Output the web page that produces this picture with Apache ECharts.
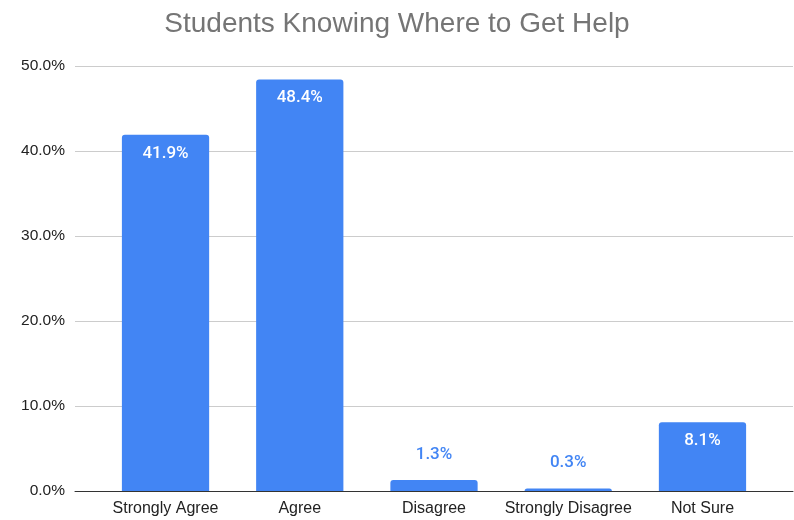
<!DOCTYPE html>
<html>
<head>
<meta charset="utf-8">
<script src="https://cdn.jsdelivr.net/npm/echarts@6/dist/echarts.min.js"></script>
<style>
  html, body { margin: 0; padding: 0; background: #fff; }
  #chart { width: 794px; height: 520px; }
</style>
</head>
<body>
<div id="chart"></div>
<script>
// Survey responses: share of students who know where to get help
const categories = ['Strongly Agree', 'Agree', 'Disagree', 'Strongly Disagree', 'Not Sure'];
const percentValues = [41.9, 48.4, 1.3, 0.3, 8.1];
const yTicks = { min: 0, max: 50, step: 10 };

const BAR_BLUE = '#4285f4';

// Tall bars carry their label inside in white; short bars get a blue label above.
const barData = percentValues.map(function (v) {
  const inside = v >= 5;
  return {
    value: v,
    label: inside
      ? { position: 'insideTop', distance: 10, color: '#ffffff' }
      : { position: 'top', distance: 17, color: BAR_BLUE }
  };
});

const chart = echarts.init(document.getElementById('chart'), null, { renderer: 'canvas' });

chart.setOption({
  animation: false,
  backgroundColor: '#ffffff',
  title: {
    text: 'Students Knowing Where to Get Help',
    left: 'center',
    top: 5,
    textStyle: {
      fontFamily: 'Liberation Sans, Arial, sans-serif',
      fontSize: 28,
      fontWeight: 'normal',
      color: '#757575'
    }
  },
  grid: [
    // full-width grid for gridlines and baseline
    { left: 75, right: 1, top: 66, bottom: 29 },
    // inset grid for the bars and category labels
    { left: 98.4, right: 24.4, top: 66, bottom: 29 }
  ],
  xAxis: [
    {
      gridIndex: 0,
      type: 'category',
      data: categories,
      axisLine: { show: true, lineStyle: { color: '#333333', width: 1 } },
      axisTick: { show: false },
      axisLabel: { show: false },
      splitLine: { show: false }
    },
    {
      gridIndex: 1,
      type: 'category',
      data: categories,
      axisLine: { show: false },
      axisTick: { show: false },
      axisLabel: {
        margin: 10,
        fontFamily: 'Liberation Sans, Arial, sans-serif',
        fontSize: 16,
        color: '#222222',
        interval: 0
      }
    }
  ],
  yAxis: [
    {
      gridIndex: 0,
      type: 'value',
      min: yTicks.min,
      max: yTicks.max,
      interval: yTicks.step,
      axisLine: { show: false },
      axisTick: { show: false },
      axisLabel: {
        margin: 10,
        fontFamily: 'Liberation Sans, Arial, sans-serif',
        fontSize: 15.5,
        color: '#222222',
        formatter: function (v) { return v.toFixed(1) + '%'; }
      },
      splitLine: { show: true, lineStyle: { color: '#cccccc', width: 1 } }
    },
    {
      gridIndex: 1,
      type: 'value',
      min: yTicks.min,
      max: yTicks.max,
      interval: yTicks.step,
      show: false,
      splitLine: { show: false }
    }
  ],
  series: [
    {
      type: 'bar',
      xAxisIndex: 1,
      yAxisIndex: 1,
      data: barData,
      barWidth: '65%',
      itemStyle: { color: BAR_BLUE, borderRadius: [3, 3, 0, 0] },
      label: {
        show: true,
        fontFamily: 'Roboto, sans-serif',
        fontSize: 17,
        fontWeight: 500,
        formatter: function (p) { return p.value.toFixed(1) + '%'; }
      }
    }
  ]
});
</script>
</body>
</html>
